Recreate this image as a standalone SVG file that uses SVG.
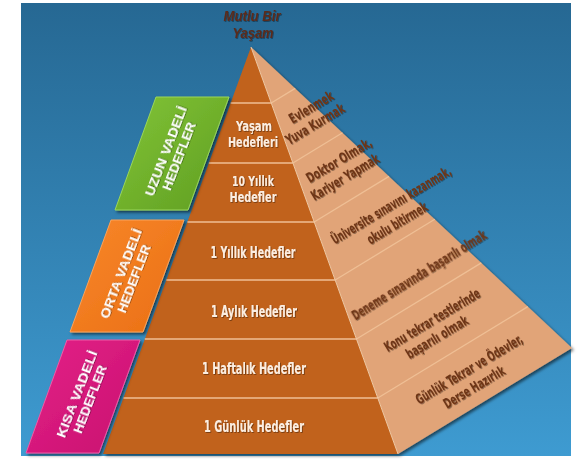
<svg xmlns="http://www.w3.org/2000/svg" width="580" height="459" viewBox="0 0 580 459">
<defs>
<linearGradient id="bg" x1="0" y1="0" x2="0" y2="1">
<stop offset="0" stop-color="#266893"/>
<stop offset="1" stop-color="#3e9bd1"/>
</linearGradient>
<linearGradient id="gG" x1="0" y1="0" x2="1" y2="1">
<stop offset="0" stop-color="#82c436"/>
<stop offset="1" stop-color="#5f9e22"/>
</linearGradient>
<linearGradient id="gO" x1="0" y1="0" x2="1" y2="1">
<stop offset="0" stop-color="#f8872a"/>
<stop offset="1" stop-color="#ea6f14"/>
</linearGradient>
<linearGradient id="gP" x1="0" y1="0" x2="1" y2="1">
<stop offset="0" stop-color="#e42288"/>
<stop offset="1" stop-color="#c8106f"/>
</linearGradient>
<filter id="sh" x="-10%" y="-10%" width="120%" height="120%">
<feDropShadow dx="2" dy="2" stdDeviation="1.5" flood-color="#000" flood-opacity="0.55"/>
</filter>
<filter id="ts" x="-10%" y="-30%" width="120%" height="160%">
<feDropShadow dx="0.8" dy="0.8" stdDeviation="0.6" flood-color="#000" flood-opacity="0.45"/>
</filter>
<style>
.front{font-family:"DejaVu Sans Condensed","Liberation Sans",sans-serif;font-weight:bold;font-size:15px;fill:#fbeee2;text-anchor:middle}
.f2{font-size:13.5px}
.side{font-family:"DejaVu Sans Condensed","Liberation Sans",sans-serif;font-weight:bold;font-size:14px;fill:#6e3516;text-anchor:middle}
.lbl{font-family:"Liberation Sans","DejaVu Sans",sans-serif;font-weight:bold;font-size:13px;fill:#ffffff;text-anchor:middle}
.title{font-family:"Liberation Sans","DejaVu Sans",sans-serif;font-weight:bold;font-style:italic;font-size:14px;fill:#5a2c1c;text-anchor:middle}
.div{stroke:#efbf95;stroke-width:1.3;fill:none}
</style>
</defs>
<rect x="0" y="0" width="580" height="459" fill="#ffffff"/>
<rect x="21" y="3" width="550" height="453" fill="url(#bg)"/>

<g id="title" filter="url(#ts)">
<text class="title" x="252" y="21" textLength="57" lengthAdjust="spacingAndGlyphs">Mutlu Bir</text>
<text class="title" x="253" y="38" textLength="41" lengthAdjust="spacingAndGlyphs">Yaşam</text>
</g>

<g id="pyramid" filter="url(#sh)">
<polygon points="251,47 572,348 398,454" fill="#e1a478"/>
<polygon points="251,47 398,454 103,454" fill="#c1621c"/>
</g>
<g id="dividers">
<line class="div" x1="230.6" y1="103" x2="271.2" y2="103"/>
<line class="div" x1="208.8" y1="163" x2="292.9" y2="163"/>
<line class="div" x1="187.4" y1="222" x2="314.2" y2="222"/>
<line class="div" x1="166.3" y1="280" x2="335.2" y2="280"/>
<line class="div" x1="144.8" y1="339" x2="356.5" y2="339"/>
<line class="div" x1="123.4" y1="398" x2="377.8" y2="398"/>
<line class="div" x1="271.2" y1="103" x2="295.2" y2="88.4"/>
<line class="div" x1="292.9" y1="163" x2="342.5" y2="132.8"/>
<line class="div" x1="314.2" y1="222" x2="389.0" y2="176.4"/>
<line class="div" x1="335.2" y1="280" x2="434.8" y2="219.3"/>
<line class="div" x1="356.5" y1="339" x2="481.3" y2="262.9"/>
<line class="div" x1="377.8" y1="398" x2="527.8" y2="306.6"/>
<line x1="251" y1="47" x2="398" y2="454" stroke="#f2c9a2" stroke-width="1"/>
</g>

<g id="tier-yasam" filter="url(#ts)">
<text class="front f2" x="254" y="131" textLength="36" lengthAdjust="spacingAndGlyphs">Yaşam</text>
<text class="front f2" x="253" y="147" textLength="50" lengthAdjust="spacingAndGlyphs">Hedefleri</text>
<text class="side" transform="translate(311,107) rotate(-31)" y="5" textLength="49" lengthAdjust="spacingAndGlyphs">Evlenmek</text>
<text class="side" transform="translate(315,124) rotate(-31)" y="5" textLength="66" lengthAdjust="spacingAndGlyphs">Yuva Kurmak</text>
</g>
<g id="tier-10yil" filter="url(#ts)">
<text class="front f2" x="253" y="186" textLength="42" lengthAdjust="spacingAndGlyphs">10 Yıllık</text>
<text class="front f2" x="253" y="202" textLength="47" lengthAdjust="spacingAndGlyphs">Hedefler</text>
<text class="side" transform="translate(339,160) rotate(-31)" y="5" textLength="74" lengthAdjust="spacingAndGlyphs">Doktor Olmak,</text>
<text class="side" transform="translate(345,177) rotate(-31)" y="5" textLength="77" lengthAdjust="spacingAndGlyphs">Kariyer Yapmak</text>
</g>
<g id="tier-1yil" filter="url(#ts)">
<text class="front" x="253" y="258" textLength="85" lengthAdjust="spacingAndGlyphs">1 Yıllık Hedefler</text>
<text class="side" transform="translate(391,205) rotate(-31)" y="5" textLength="137" lengthAdjust="spacingAndGlyphs">Üniversite sınavını kazanmak,</text>
<text class="side" transform="translate(397,223) rotate(-31)" y="5" textLength="68" lengthAdjust="spacingAndGlyphs">okulu bitirmek</text>
</g>
<g id="tier-1ay" filter="url(#ts)">
<text class="front" x="254" y="317" textLength="86" lengthAdjust="spacingAndGlyphs">1 Aylık Hedefler</text>
<text class="side" transform="translate(419,275) rotate(-32)" y="5" textLength="156" lengthAdjust="spacingAndGlyphs">Deneme sınavında başarılı olmak</text>
</g>
<g id="tier-1hafta" filter="url(#ts)">
<text class="front" x="254" y="374" textLength="104" lengthAdjust="spacingAndGlyphs">1 Haftalık Hedefler</text>
<text class="side" transform="translate(432,320) rotate(-31)" y="5" textLength="109" lengthAdjust="spacingAndGlyphs">Konu tekrar testlerinde</text>
<text class="side" transform="translate(437,337) rotate(-31)" y="5" textLength="70" lengthAdjust="spacingAndGlyphs">başarılı olmak</text>
</g>
<g id="tier-1gun" filter="url(#ts)">
<text class="front" x="254" y="432" textLength="100" lengthAdjust="spacingAndGlyphs">1 Günlük Hedefler</text>
<text class="side" transform="translate(469,369) rotate(-31)" y="5" textLength="122" lengthAdjust="spacingAndGlyphs">Günlük Tekrar ve Ödevler,</text>
<text class="side" transform="translate(474,387) rotate(-31)" y="5" textLength="69" lengthAdjust="spacingAndGlyphs">Derse Hazırlık</text>
</g>

<g id="uzun-vadeli">
<polygon points="156,97 229,97 188,210 115,210" fill="url(#gG)" stroke="#9bd65a" stroke-width="1" filter="url(#sh)"/>
<g transform="translate(172,153.5) rotate(-69)" filter="url(#ts)">
<text class="lbl" x="0" y="-2" textLength="95" lengthAdjust="spacingAndGlyphs">UZUN VADELİ</text>
<text class="lbl" x="0" y="12" textLength="72" lengthAdjust="spacingAndGlyphs">HEDEFLER</text>
</g>
</g>
<g id="orta-vadeli">
<polygon points="111,220 184,220 143,332 70,332" fill="url(#gO)" stroke="#fba35a" stroke-width="1" filter="url(#sh)"/>
<g transform="translate(127,276) rotate(-69)" filter="url(#ts)">
<text class="lbl" x="0" y="-2" textLength="95" lengthAdjust="spacingAndGlyphs">ORTA VADELİ</text>
<text class="lbl" x="0" y="12" textLength="72" lengthAdjust="spacingAndGlyphs">HEDEFLER</text>
</g>
</g>
<g id="kisa-vadeli">
<polygon points="67,340 140,340 99,453 26,453" fill="url(#gP)" stroke="#f05aa6" stroke-width="1" filter="url(#sh)"/>
<g transform="translate(83,396.5) rotate(-69)" filter="url(#ts)">
<text class="lbl" x="0" y="-2" textLength="92" lengthAdjust="spacingAndGlyphs">KISA VADELİ</text>
<text class="lbl" x="0" y="12" textLength="72" lengthAdjust="spacingAndGlyphs">HEDEFLER</text>
</g>
</g>
<g id="connectors"/>
</svg>
